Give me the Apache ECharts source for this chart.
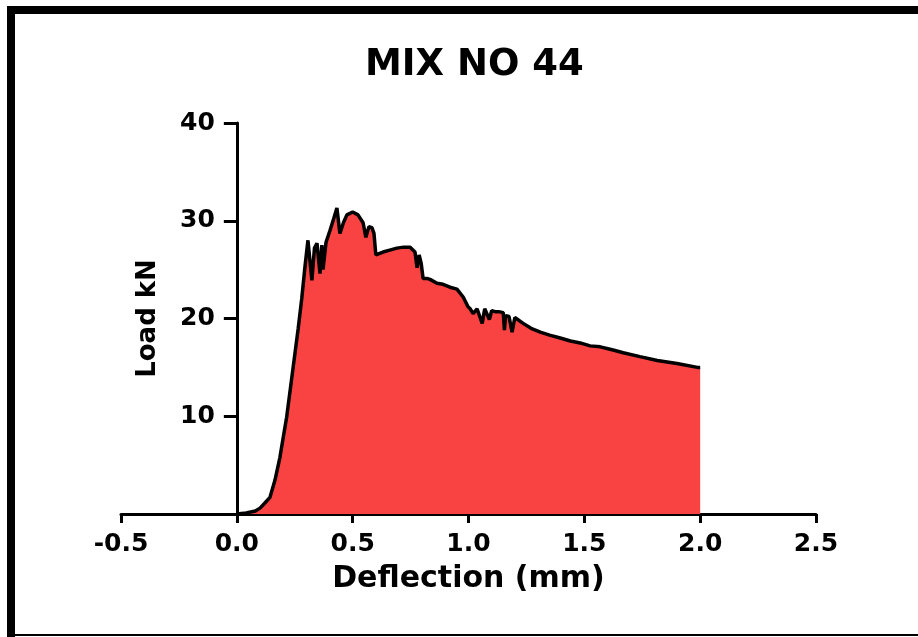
<!DOCTYPE html>
<html>
<head>
<meta charset="utf-8">
<script src="https://cdn.jsdelivr.net/npm/echarts@6/dist/echarts.min.js"></script>
<style>html,body{margin:0;padding:0;background:#fff;}#c{width:918px;height:637px;}</style>
</head>
<body>
<div id="c"></div>
<script>
const title = 'MIX NO 44';
const xName = 'Deflection (mm)';
const yName = 'Load kN';
const xTicks = [-0.5, 0.0, 0.5, 1.0, 1.5, 2.0, 2.5];
const yTicks = [0, 10, 20, 30, 40];
const deflection = [0, 0.04, 0.08, 0.10, 0.12, 0.143, 0.165, 0.186, 0.20, 0.215, 0.243, 0.265, 0.28, 0.295, 0.307,
  0.324, 0.335, 0.346, 0.359, 0.367, 0.372, 0.385, 0.402, 0.418, 0.432, 0.445, 0.46, 0.475, 0.50, 0.523, 0.545, 0.557,
  0.57, 0.583, 0.592, 0.60, 0.631, 0.66, 0.691, 0.72, 0.748, 0.769, 0.778, 0.787, 0.796, 0.804, 0.82, 0.834, 0.864,
  0.89, 0.92, 0.95, 0.977, 0.998, 1.007, 1.02, 1.037, 1.059, 1.07, 1.09, 1.10, 1.115, 1.13, 1.15, 1.155, 1.16, 1.175,
  1.188, 1.20, 1.236, 1.27, 1.31, 1.35, 1.396, 1.44, 1.482, 1.525, 1.569, 1.62, 1.668, 1.74, 1.815, 1.90, 1.988, 2.0];
const load = [0, 0.1, 0.3, 0.6, 1.1, 1.7, 3.5, 5.8, 7.8, 9.9, 15.0, 19.0, 22.0, 25.5, 28.0,
  23.9, 27.2, 27.7, 24.6, 27.5, 25.0, 27.8, 29.0, 30.2, 31.3, 28.7, 29.8, 30.6, 30.9, 30.6, 29.8, 28.3,
  29.4, 29.3, 28.7, 26.5, 26.8, 27.0, 27.2, 27.3, 27.3, 26.8, 25.2, 26.5, 25.6, 24.1, 24.1, 24.0, 23.6,
  23.5, 23.2, 23.0, 22.2, 21.2, 21.0, 20.5, 21.0, 19.5, 21.0, 19.9, 20.8, 20.7, 20.7, 20.6, 18.8, 20.3, 20.2,
  18.6, 20.1, 19.5, 19.0, 18.6, 18.3, 18.0, 17.7, 17.5, 17.2, 17.1, 16.8, 16.5, 16.1, 15.7, 15.4, 15.0, 15.0];

const chart = echarts.init(document.getElementById('c'), null, {renderer: 'canvas'});
const font = 'DejaVu Sans, sans-serif';
const gridLeft = 121, gridRight = 102;
const plotW = 918 - gridLeft - gridRight;
// place the y axis at x = 0 by shifting it inside the grid
const yOffset = -plotW * (0 - xTicks[0]) / (xTicks[xTicks.length - 1] - xTicks[0]);
chart.setOption({
  animation: false,
  backgroundColor: '#fff',
  title: {
    text: title, left: 360, top: 42,
    textStyle: {fontFamily: font, fontSize: 37, fontWeight: 'bold', color: '#000'}
  },
  graphic: [
    {type: 'rect', shape: {x: 7, y: 6, width: 911, height: 8}, style: {fill: '#000'}},
    {type: 'rect', shape: {x: 7, y: 6, width: 8, height: 631}, style: {fill: '#000'}},
    {type: 'rect', shape: {x: 7, y: 634, width: 911, height: 2}, style: {fill: '#000'}}
  ],
  grid: {left: gridLeft, right: gridRight, top: 123, bottom: 123, containLabel: false},
  xAxis: {
    type: 'value', min: xTicks[0], max: xTicks[xTicks.length - 1], interval: 0.5,
    name: xName, nameLocation: 'middle', nameGap: 50,
    nameTextStyle: {fontFamily: font, fontSize: 30, fontWeight: 'bold', color: '#000'},
    axisLine: {show: true, onZero: false, lineStyle: {color: '#000', width: 3}},
    axisTick: {show: true, length: 9, lineStyle: {color: '#000', width: 3}},
    axisLabel: {margin: 18, fontFamily: font, fontSize: 25, fontWeight: 'bold', color: '#000',
      formatter: v => v.toFixed(1)},
    splitLine: {show: false}
  },
  yAxis: {
    type: 'value', min: yTicks[0], max: yTicks[yTicks.length - 1], interval: 10,
    offset: yOffset,
    name: yName, nameLocation: 'middle', nameGap: 76, nameRotate: 90,
    nameTextStyle: {fontFamily: font, fontSize: 26, fontWeight: 'bold', color: '#000'},
    axisLine: {show: true, onZero: false, lineStyle: {color: '#000', width: 3}},
    axisTick: {show: true, length: 13, lineStyle: {color: '#000', width: 3}},
    axisLabel: {margin: 22, fontFamily: font, fontSize: 25, fontWeight: 'bold', color: '#000',
      formatter: v => v === 0 ? '' : String(v)},
    splitLine: {show: false}
  },
  series: [{
    type: 'line',
    data: deflection.map((d, i) => [d, load[i]]),
    showSymbol: false,
    lineStyle: {color: '#000', width: 3.5},
    areaStyle: {color: '#f94343', opacity: 1},
    z: 1
  }]
});
</script>
</body>
</html>
